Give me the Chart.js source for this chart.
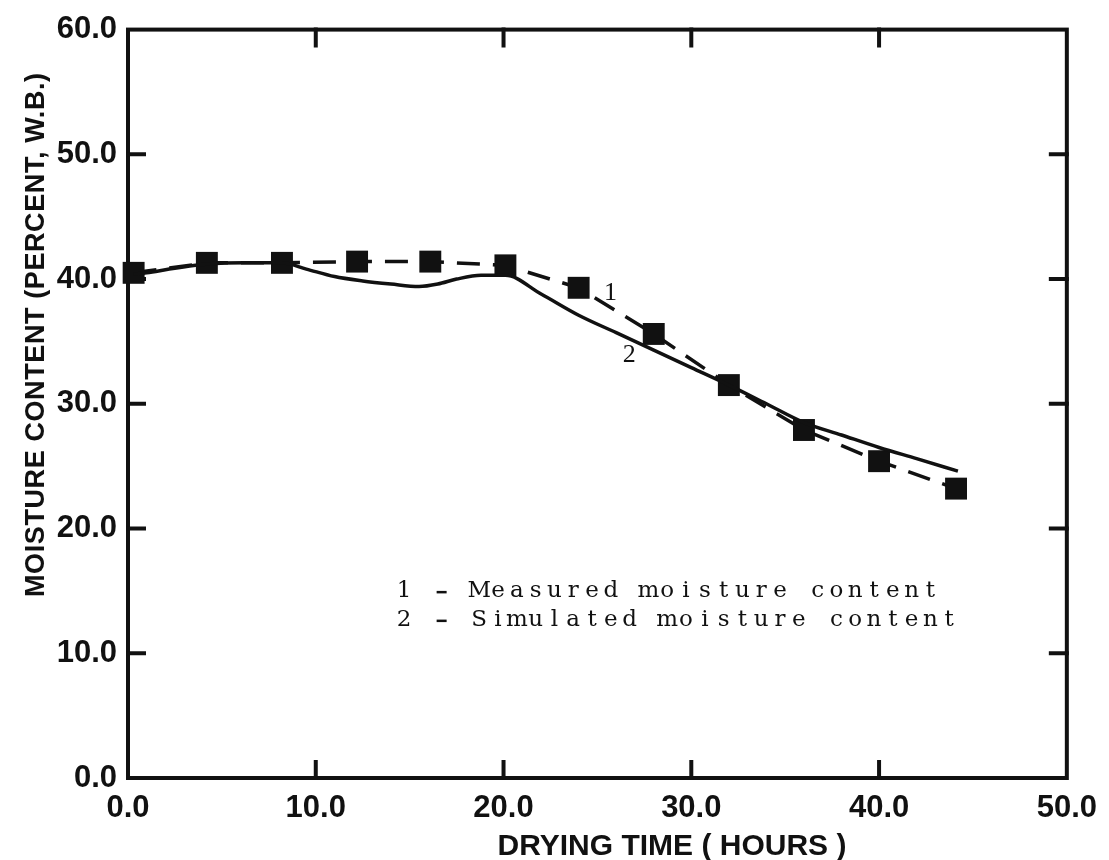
<!DOCTYPE html>
<html>
<head>
<meta charset="utf-8">
<script src="https://cdn.jsdelivr.net/npm/chart.js@4.4.0/dist/chart.umd.min.js"></script>
<style>
  html, body { margin: 0; padding: 0; background: #fff; }
  #wrap { width: 1109px; height: 860px; }
</style>
</head>
<body>
<div id="wrap"><canvas id="chart" width="1109" height="860"></canvas></div>
<script>
// données
const measuredHours = [0.3, 4.2, 8.2, 12.2, 16.1, 20.1, 24.0, 28.0, 32.0, 36.0, 40.0, 44.1];
const measuredMoisture = [40.5, 41.3, 41.3, 41.4, 41.4, 41.1, 39.3, 35.6, 31.5, 27.9, 25.4, 23.2];

const simulatedHours = [0.3, 1.0, 2.2, 3.6, 4.2, 6.2, 8.2, 9.5, 11.0, 12.5, 14.0, 15.5, 16.5, 17.5, 18.8, 20.1,
                        22.0, 24.0, 26.0, 28.0, 30.0, 32.0, 34.0, 36.0, 38.0, 40.0, 42.0, 44.2];
const simulatedMoisture = [40.4, 40.5, 40.8, 41.1, 41.2, 41.3, 41.3, 40.8, 40.2, 39.85, 39.6, 39.4, 39.6, 40.0, 40.3, 40.3,
                           38.8, 37.1, 35.7, 34.3, 32.9, 31.5, 30.0, 28.5, 27.5, 26.5, 25.6, 24.6];

const xTicks = [0, 10, 20, 30, 40, 50];
const yTicks = [0, 10, 20, 30, 40, 50, 60];

const xTitle = 'DRYING TIME ( HOURS )';
const yTitle = 'MOISTURE CONTENT (PERCENT, W.B.)';
const legendLines = ['1 - Measured moisture content', '2 - Simulated moisture content'];
const legendAt = { x: 14.2, y: [15.0, 12.7] };
const curveLabels = [
    { text: '1', x: 25.7, y: 38.9 },
    { text: '2', x: 26.7, y: 33.9 }
];

const INK = '#111';
const tickFont = { family: '"Liberation Sans", Arial, sans-serif', weight: 'bold', size: 31 };

// cadre + graduations vers l'intérieur (comme sur l'original)
const framePlugin = {
    id: 'frame',
    beforeDatasetsDraw(chart) {
        const { ctx, chartArea: a, scales } = chart;
        const len = 16;
        ctx.save();
        ctx.strokeStyle = INK;
        ctx.lineWidth = 4;
        ctx.lineCap = 'square';
        ctx.strokeRect(a.left, a.top, a.right - a.left, a.bottom - a.top);
        ctx.beginPath();
        xTicks.slice(1, -1).forEach(v => {
            const px = scales.x.getPixelForValue(v);
            ctx.moveTo(px, a.bottom); ctx.lineTo(px, a.bottom - len);
            ctx.moveTo(px, a.top); ctx.lineTo(px, a.top + len);
        });
        yTicks.slice(1, -1).forEach(v => {
            const py = scales.y.getPixelForValue(v);
            ctx.moveTo(a.left, py); ctx.lineTo(a.left + len, py);
            ctx.moveTo(a.right, py); ctx.lineTo(a.right - len, py);
        });
        ctx.stroke();
        ctx.restore();
    }
};

// titres d'axes, légende "machine à écrire", repères 1 / 2
const textPlugin = {
    id: 'texts',
    afterDraw(chart) {
        const { ctx, scales } = chart;
        ctx.save();
        ctx.fillStyle = INK;

        ctx.font = 'bold 30px "Liberation Sans", Arial, sans-serif';
        ctx.textAlign = 'center';
        ctx.textBaseline = 'alphabetic';
        ctx.fillText(xTitle, 672, 855);

        ctx.save();
        ctx.translate(44, 597);
        ctx.rotate(-Math.PI / 2);
        ctx.font = 'bold 27px "Liberation Sans", Arial, sans-serif';
        ctx.letterSpacing = '0.6px';
        ctx.textAlign = 'left';
        ctx.fillText(yTitle, 0, 0);
        ctx.restore();

        // texte à chasse fixe, un caractère par case
        ctx.font = '23px "DejaVu Serif", serif';
        ctx.textAlign = 'center';
        ctx.textBaseline = 'middle';
        const adv = 18.8;
        const x0 = scales.x.getPixelForValue(legendAt.x);
        legendLines.forEach((line, j) => {
            const y = scales.y.getPixelForValue(legendAt.y[j]);
            [...line].forEach((ch, i) => {
                if (ch === '-') {
                    ctx.fillRect(x0 + i * adv + adv / 2 - 5, y, 10, 2.5);
                } else {
                    ctx.fillText(ch, x0 + i * adv + adv / 2, y);
                }
            });
        });

        ctx.font = '26px "Liberation Serif", serif';
        curveLabels.forEach(l => {
            ctx.fillText(l.text, scales.x.getPixelForValue(l.x), scales.y.getPixelForValue(l.y));
        });
        ctx.restore();
    }
};

new Chart(document.getElementById('chart'), {
    type: 'scatter',
    data: {
        datasets: [
            {
                label: 'Simulated',
                data: simulatedHours.map((x, i) => ({ x, y: simulatedMoisture[i] })),
                showLine: true,
                borderColor: INK,
                borderWidth: 3.5,
                pointRadius: 0,
                cubicInterpolationMode: 'monotone',
                clip: false
            },
            {
                label: 'Measured',
                data: measuredHours.map((x, i) => ({ x, y: measuredMoisture[i] })),
                showLine: true,
                borderColor: INK,
                backgroundColor: INK,
                borderWidth: 3.5,
                borderDash: [23, 13],
                tension: 0,
                pointStyle: 'rect',
                pointRadius: 15.5,
                pointBorderWidth: 0,
                clip: false
            }
        ]
    },
    options: {
        responsive: false,
        animation: false,
        devicePixelRatio: 1,
        layout: { padding: { top: 25, right: 33, left: 0, bottom: 0 } },
        plugins: { legend: { display: false }, tooltip: { enabled: false } },
        scales: {
            x: {
                type: 'linear', min: 0, max: 50,
                afterBuildTicks: s => { s.ticks = xTicks.map(v => ({ value: v })); },
                afterFit: s => { s.height = 82; },
                grid: { display: false, drawTicks: false },
                border: { display: false },
                ticks: {
                    font: tickFont, color: INK, padding: 12, maxRotation: 0, autoSkip: false,
                    callback: v => v.toFixed(1)
                }
            },
            y: {
                type: 'linear', min: 0, max: 60,
                afterBuildTicks: s => { s.ticks = yTicks.map(v => ({ value: v })); },
                afterFit: s => { s.width = 128; },
                grid: { display: false, drawTicks: false },
                border: { display: false },
                ticks: {
                    font: tickFont, color: INK, padding: 11, autoSkip: false,
                    callback: v => v.toFixed(1)
                }
            }
        }
    },
    plugins: [framePlugin, textPlugin]
});
</script>
</body>
</html>
